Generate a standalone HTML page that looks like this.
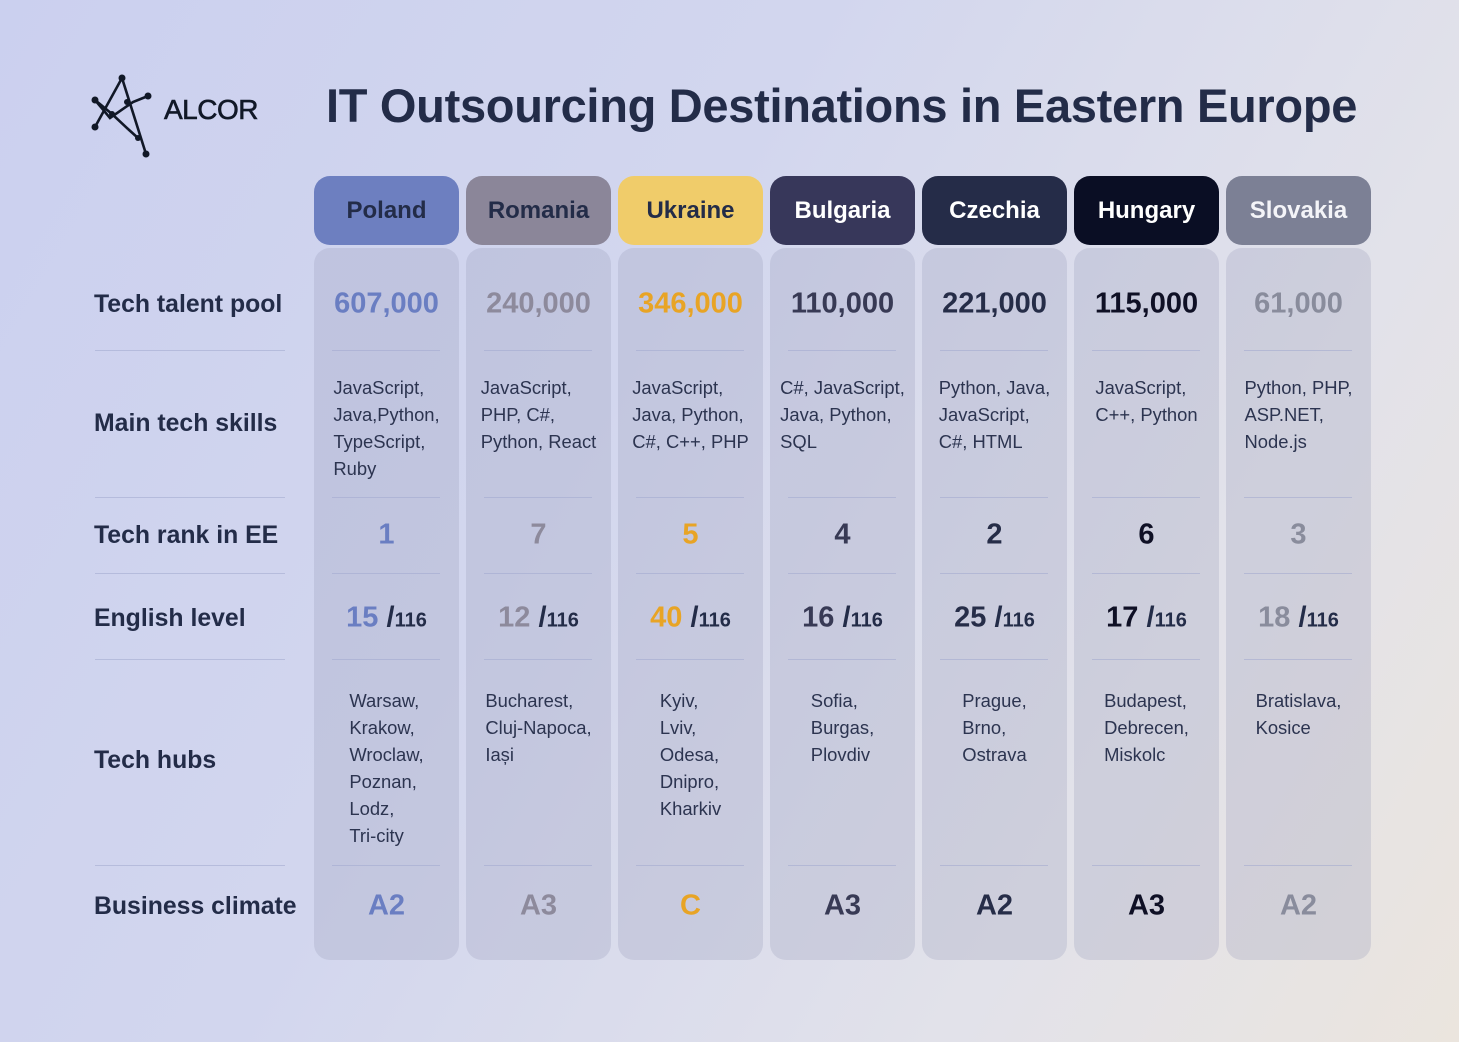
<!DOCTYPE html>
<html><head><meta charset="utf-8"><style>
*{margin:0;padding:0;box-sizing:border-box}
body{width:1459px;height:1042px;overflow:hidden;font-family:"Liberation Sans",sans-serif;color:#232c48;
background:linear-gradient(120deg,#cbd0ef 0%,#d2d6ee 40%,#e2e2ea 75%,#ebe5de 100%);position:relative}
.a{position:absolute}
.title{left:326px;top:78px;font-size:47px;font-weight:bold;white-space:nowrap;letter-spacing:-0.3px}
.logo{left:164px;top:94px;font-size:28px;letter-spacing:-0.5px;color:#111827;-webkit-text-stroke:0.6px #111827}
.hd{position:absolute;top:176px;width:145px;height:69px;border-radius:16px;font-size:24px;font-weight:bold;text-align:center;line-height:70px}
.bd{position:absolute;top:248px;width:145px;height:712px;border-radius:16px;background:rgba(150,155,185,0.27)}
.lbl{position:absolute;left:94px;font-size:24.8px;font-weight:bold;transform:translateY(-50%);white-space:nowrap}
.ln{position:absolute;height:1px;background:rgba(160,168,205,0.55)}
.v{position:absolute;width:145px;text-align:center;font-weight:bold;font-size:29px;transform:translateY(-50%)}
.t{position:absolute;width:145px;text-align:center;font-size:18.4px;line-height:27px;color:#2c3450}
.t span{display:inline-block;text-align:left}
.sm{font-size:20px}
</style></head><body>
<svg class="a" style="left:90px;top:72px" width="70" height="90" viewBox="0 0 70 90" fill="none" stroke="#111827" stroke-width="2.6">
<path d="M32 6 L5 55 M32 6 L56 82 M5 28 L22 42 L38 57 M5 28 L20 46 L43 30 L58 24 M38 57 L48 66"/>
<g fill="#111827" stroke="none"><circle cx="32" cy="6" r="3.5"/><circle cx="58" cy="24" r="3.5"/><circle cx="5" cy="28" r="3.5"/><circle cx="37" cy="30" r="3"/><circle cx="22" cy="42" r="3"/><circle cx="5" cy="55" r="3.5"/><circle cx="48" cy="66" r="3"/><circle cx="56" cy="82" r="3.5"/></g>
</svg>
<div class="a logo">ALCOR</div>
<div class="a title">IT Outsourcing Destinations in Eastern Europe</div>

<div class="hd" style="left:314px;background:#6d7fc0">Poland</div>
<div class="hd" style="left:466px;background:#8b8699">Romania</div>
<div class="hd" style="left:618px;background:#f0cc6a">Ukraine</div>
<div class="hd" style="left:770px;background:#37375a;color:#fff">Bulgaria</div>
<div class="hd" style="left:922px;background:#252c48;color:#fff">Czechia</div>
<div class="hd" style="left:1074px;background:#0a0e24;color:#fff">Hungary</div>
<div class="hd" style="left:1226px;background:#7c8095;color:#f4f4f8">Slovakia</div>

<div class="bd" style="left:314px"></div><div class="bd" style="left:466px"></div><div class="bd" style="left:618px"></div><div class="bd" style="left:770px"></div><div class="bd" style="left:922px"></div><div class="bd" style="left:1074px"></div><div class="bd" style="left:1226px"></div>

<div class="lbl" style="top:305px">Tech talent pool</div>
<div class="lbl" style="top:424px">Main tech skills</div>
<div class="lbl" style="top:536px">Tech rank in EE</div>
<div class="lbl" style="top:619px">English level</div>
<div class="lbl" style="top:761px">Tech hubs</div>
<div class="lbl" style="top:907px">Business climate</div>

<div id="lines"></div>
<script>
var ys=[350,497,573,659,865],cs=[314,466,618,770,922,1074,1226],h='';
ys.forEach(function(y){h+='<div class="ln" style="left:95px;width:190px;top:'+y+'px"></div>';cs.forEach(function(x){h+='<div class="ln" style="left:'+(x+18)+'px;width:108px;top:'+y+'px"></div>'})});
var col=['#6a7ec2','#8d8a9c','#e8a425','#383a55','#262d48','#0f1025','#898c9c'];
var pool=['607,000','240,000','346,000','110,000','221,000','115,000','61,000'];
var sk=['JavaScript,<br>Java,Python,<br>TypeScript,<br>Ruby','JavaScript,<br>PHP, C#,<br>Python, React','JavaScript,<br>Java, Python,<br>C#, C++, PHP','C#, JavaScript,<br>Java, Python,<br>SQL','Python, Java,<br>JavaScript,<br>C#, HTML','JavaScript,<br>C++, Python','Python, PHP,<br>ASP.NET,<br>Node.js'];
var rk=['1','7','5','4','2','6','3'],en=['15','12','40','16','25','17','18'];
var hb=['Warsaw,<br>Krakow,<br>Wroclaw,<br>Poznan,<br>Lodz,<br>Tri-city','Bucharest,<br>Cluj-Napoca,<br>Iași','Kyiv,<br>Lviv,<br>Odesa,<br>Dnipro,<br>Kharkiv','Sofia,<br>Burgas,<br>Plovdiv','Prague,<br>Brno,<br>Ostrava','Budapest,<br>Debrecen,<br>Miskolc','Bratislava,<br>Kosice'];
var bc=['A2','A3','C','A3','A2','A3','A2'];
cs.forEach(function(x,i){var c=col[i];
h+='<div class="v" style="left:'+x+'px;top:304px;color:'+c+'">'+pool[i]+'</div>';
h+='<div class="t" style="left:'+x+'px;top:374px"><span>'+sk[i]+'</span></div>';
h+='<div class="v" style="left:'+x+'px;top:535px;color:'+c+'">'+rk[i]+'</div>';
h+='<div class="v" style="left:'+x+'px;top:618px;color:'+c+'">'+en[i]+' <span style="color:#232c48">/<span class="sm">116</span></span></div>';
h+='<div class="t" style="left:'+x+'px;top:687px"><span>'+hb[i]+'</span></div>';
h+='<div class="v" style="left:'+x+'px;top:906px;color:'+c+'">'+bc[i]+'</div>';});
document.getElementById('lines').innerHTML=h;
</script>
</body></html>
